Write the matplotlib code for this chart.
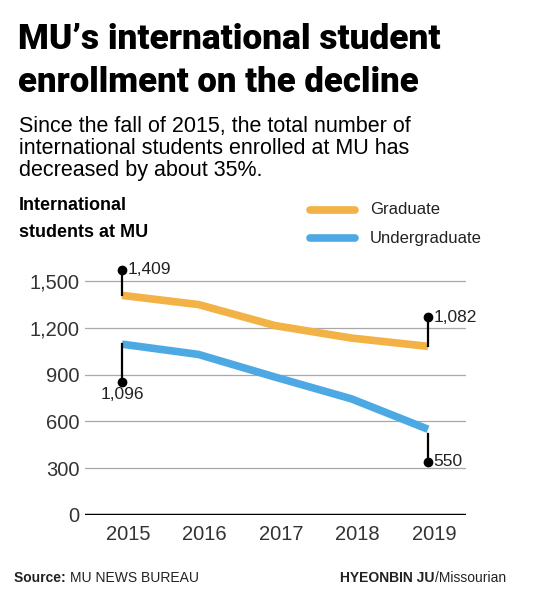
import matplotlib.pyplot as plt
from matplotlib.transforms import ScaledTranslation

# data
years = [2015, 2016, 2017, 2018, 2019]
graduate = [1409, 1350, 1215, 1135, 1082]
undergraduate = [1096, 1030, 885, 745, 550]
yticks = [0, 300, 600, 900, 1200, 1500]

orange = '#F2B245'
blue = '#4DA9E4'
grid_c = '#A8A8A8'
txt_c = '#222222'

body = ['Liberation Sans', 'DejaVu Sans']

fig = plt.figure(figsize=(5.43, 6.0), dpi=100)
W, H = 543, 600

def px(x, y):
    return x / W, 1 - y / H

# axes: x 85..466 px, y=0 at 515 px
ax = fig.add_axes([85 / W, 85 / H, 381 / W, 265 / H])
ax.set_xlim(2014.516, 2019.497)
ax.set_ylim(0, 1700)
for s in ax.spines.values():
    s.set_visible(False)
ax.set_xticks(years)
ax.set_yticks(yticks)
ax.set_yticklabels([f'{v:,}' for v in yticks], family=body, fontsize=14.5, color='#333333')
ax.set_xticklabels([str(y) for y in years], family=body, fontsize=14.5, color='#333333')
ax.tick_params(length=0, axis='y', pad=4)
ax.tick_params(length=0, axis='x', pad=7)
# year labels sit a few pixels right of the data points in the reference
shift = ScaledTranslation(6 / 100, 0, fig.dpi_scale_trans)
for lab in ax.get_xticklabels():
    lab.set_transform(lab.get_transform() + shift)
for v in yticks[1:]:
    ax.axhline(v, color=grid_c, lw=0.9, zorder=1)
ax.axhline(0, color='black', lw=2.5, zorder=2)

ax.plot(years, graduate, color=orange, lw=5.5, solid_capstyle='butt',
        solid_joinstyle='round', zorder=3)
ax.plot(years, undergraduate, color=blue, lw=5.5, solid_capstyle='butt',
        solid_joinstyle='round', zorder=3)

# callouts (stem, dot, label)
def callout(x, y0, y1, label, ha='left', dy_lab=0):
    ax.plot([x, x], [y0, y1], color='black', lw=1.6, zorder=4, clip_on=False)
    ax.plot([x], [y1], 'o', color='black', ms=6, zorder=5, clip_on=False)
    if ha == 'left':
        ax.text(x + 0.07, y1, label, ha='left', va='center', family=body,
                fontsize=12.5, color=txt_c, clip_on=False)
    else:
        ax.text(x, y1 + dy_lab, label, ha='center', va='center', family=body,
                fontsize=12.5, color=txt_c, clip_on=False)

callout(years[0], graduate[0], graduate[0] + 165, f'{graduate[0]:,}')
callout(years[-1], graduate[-1], graduate[-1] + 185, f'{graduate[-1]:,}')
callout(years[0], undergraduate[0], undergraduate[0] - 240, f'{undergraduate[0]:,}',
        ha='center', dy_lab=-85)
callout(years[-1], undergraduate[-1] - 30, undergraduate[-1] - 210, f'{undergraduate[-1]:,}')

# title: heavy font, shrunk to the reference's line widths if needed
fig.canvas.draw()
rend = fig.canvas.get_renderer()
for txt, yb, target in [("MU’s international student", 49, 423),
                        ("enrollment on the decline", 92, 401)]:
    t = fig.text(*px(18, yb), txt, family=['Roboto', 'DejaVu Sans'],
                 weight='black', fontsize=28.5, color='black', va='baseline')
    w = t.get_window_extent(rend).width
    if w > target:
        t.set_fontsize(28.5 * target / w)

sub = ["Since the fall of 2015, the total number of",
       "international students enrolled at MU has",
       "decreased by about 35%."]
for i, line in enumerate(sub):
    fig.text(*px(19, 132 + 22 * i), line, family=body, fontsize=15.5,
             color='black', va='baseline')

# axis header
fig.text(*px(19, 210), "International", family=body, weight='bold', fontsize=13,
         color='black', va='baseline')
fig.text(*px(19, 237), "students at MU", family=body, weight='bold', fontsize=13,
         color='black', va='baseline')

# legend
for yy, col, name in [(210, orange, 'Graduate'), (238, blue, 'Undergraduate')]:
    fig.add_artist(plt.Line2D([310 / W, 355 / W], [1 - yy / H, 1 - yy / H], color=col,
                              lw=5.5, solid_capstyle='round'))
    fig.text(*px(370, yy), name, family=body, fontsize=12, color=txt_c, va='center')

# footer
t = fig.text(*px(14, 578), "Source: ", family=body, weight='bold', fontsize=10,
             color=txt_c, va='center')
fig.canvas.draw()
bb = t.get_window_extent()
fig.text(bb.x1 / W, 1 - 578 / H, "MU NEWS BUREAU", family=body, fontsize=10,
         color=txt_c, va='center')
t2 = fig.text(506 / W, 1 - 578 / H, "/Missourian", family=body, fontsize=10,
              color=txt_c, va='center', ha='right')
fig.canvas.draw()
bb2 = t2.get_window_extent()
fig.text(bb2.x0 / W, 1 - 578 / H, "HYEONBIN JU", family=body, weight='bold',
         fontsize=10, color=txt_c, va='center', ha='right')

fig.savefig('out.png', dpi=100, facecolor='white')
